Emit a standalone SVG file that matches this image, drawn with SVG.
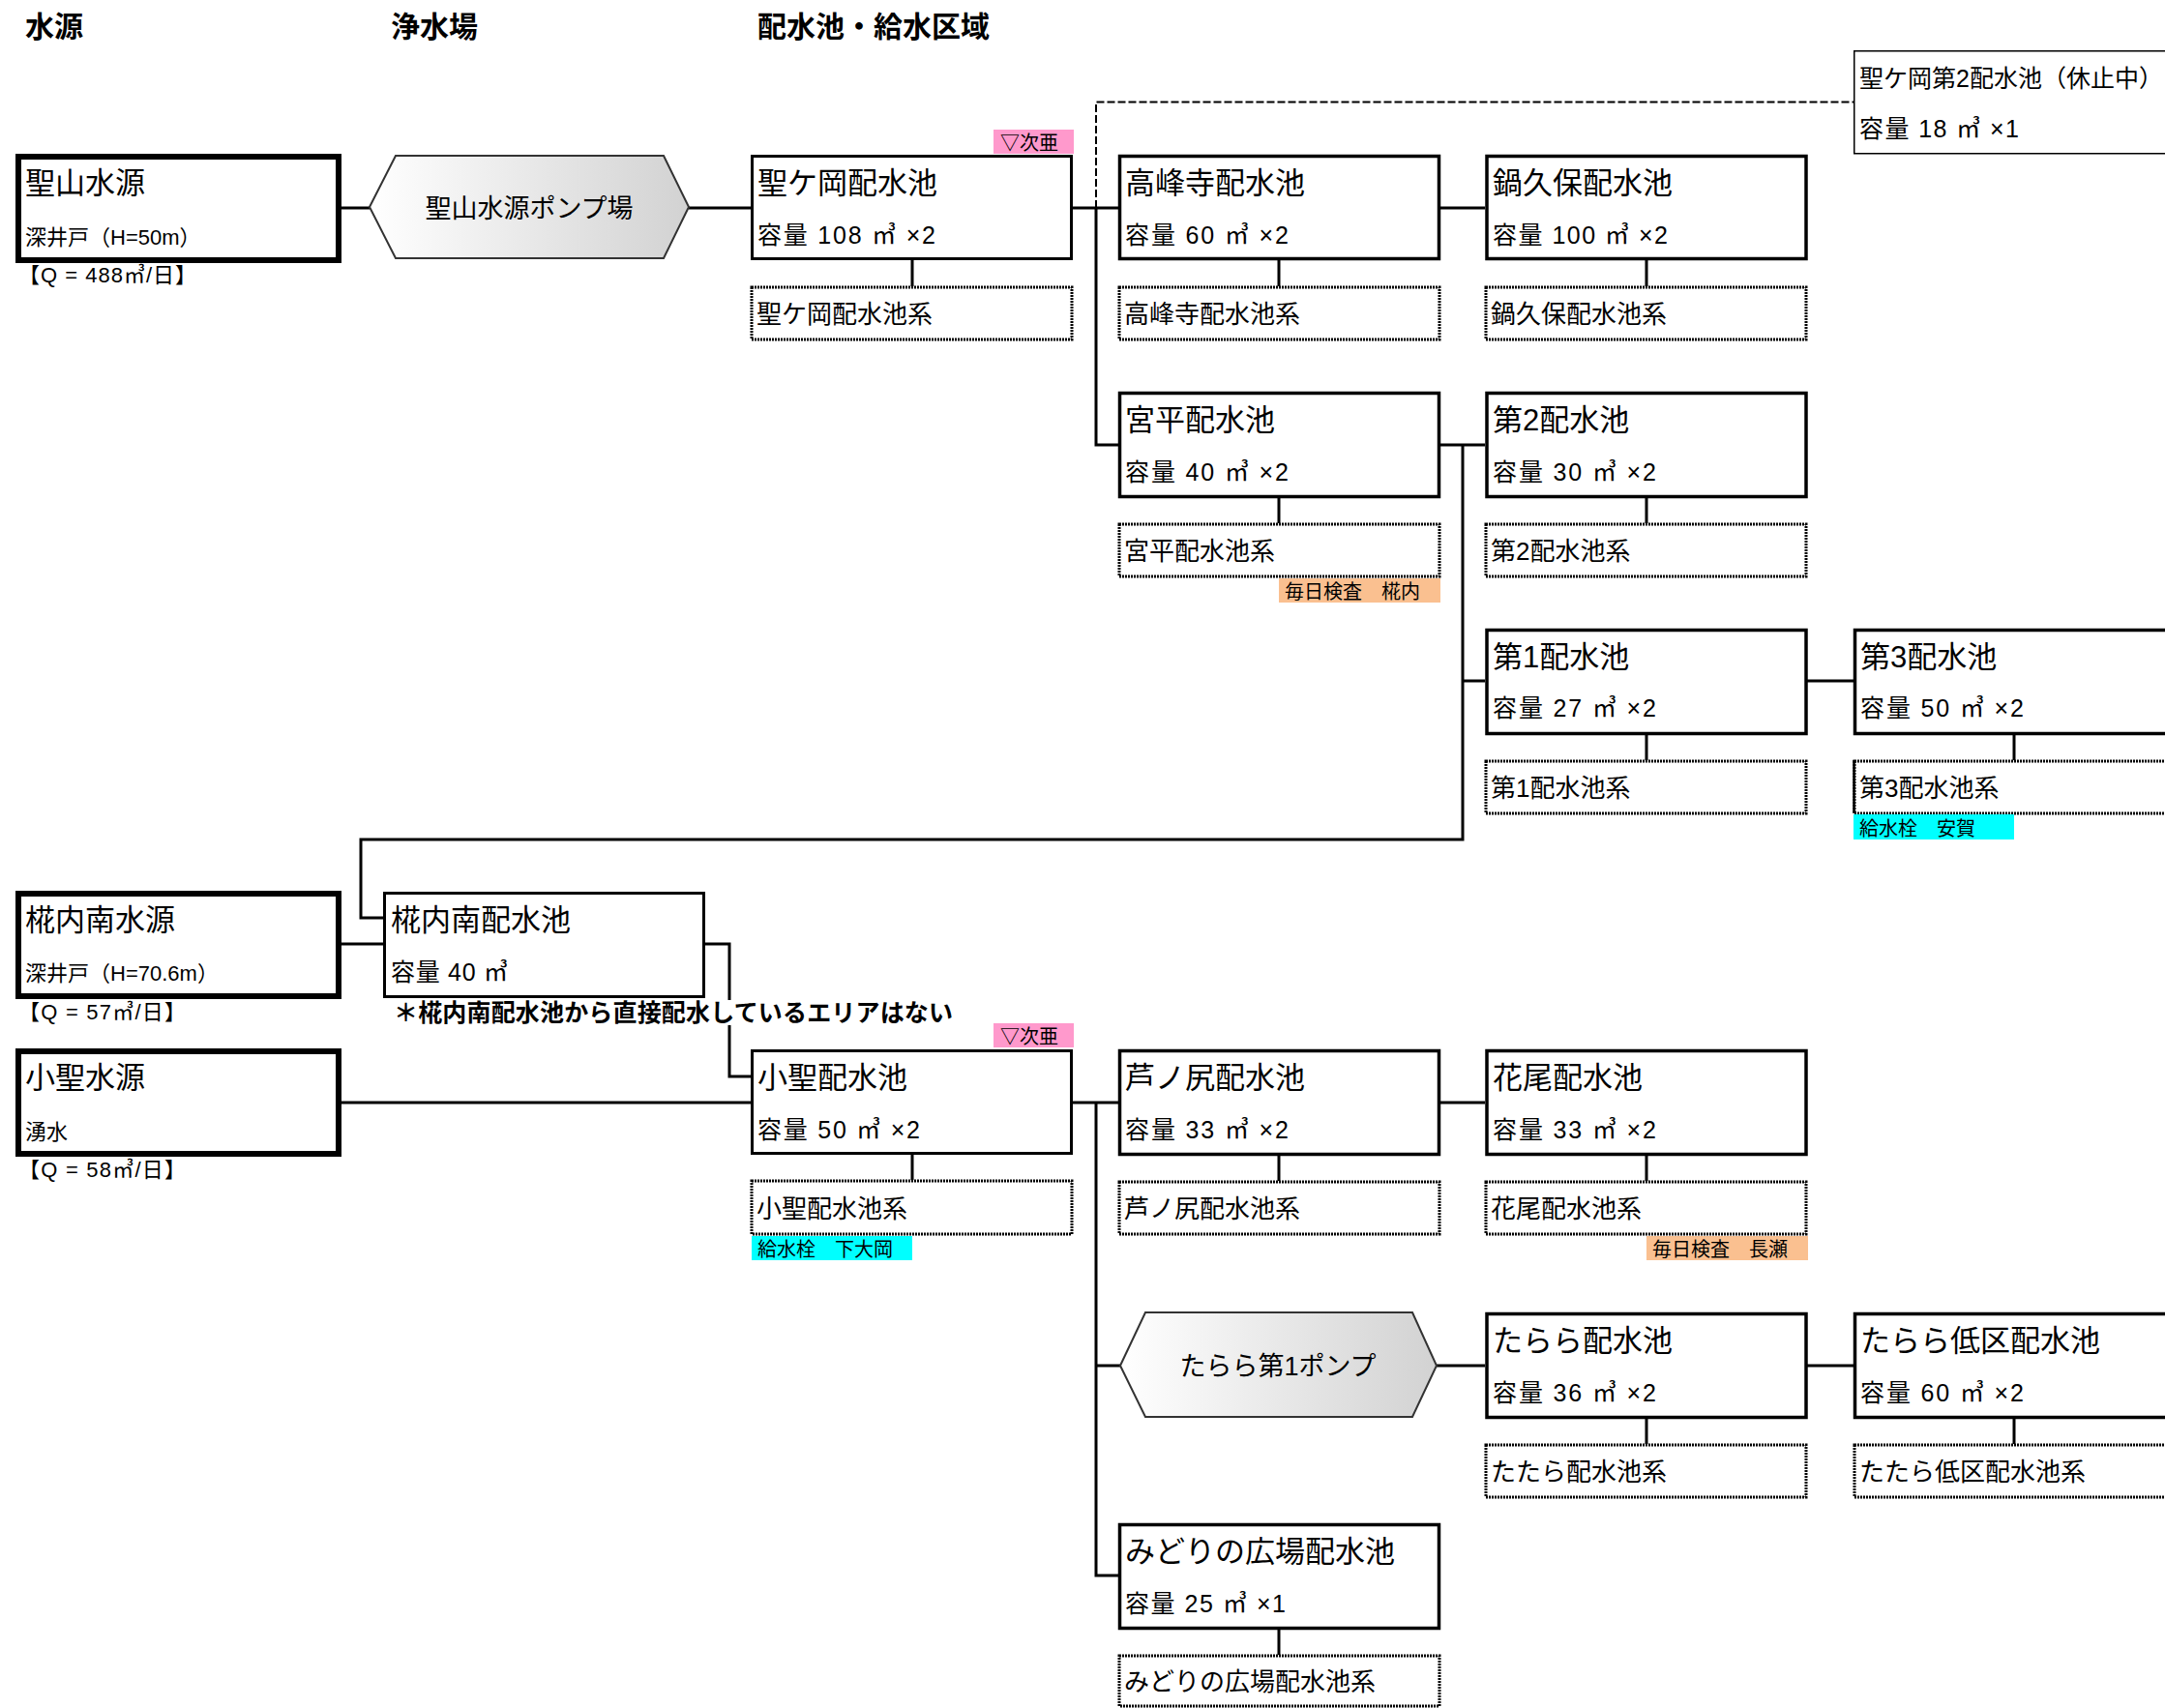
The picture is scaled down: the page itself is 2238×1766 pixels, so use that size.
<svg xmlns="http://www.w3.org/2000/svg" width="2238" height="1766" viewBox="0 0 2238 1766">
<defs>
<linearGradient id="pumpGrad" x1="0" y1="0" x2="1" y2="0">
<stop offset="0" stop-color="#ffffff"/>
<stop offset="1" stop-color="#d2d2d2"/>
</linearGradient>
<style>
text{font-family:"Liberation Sans","Noto Sans CJK JP",sans-serif;fill:#000}
.head{font-size:30px;font-weight:bold}
.title{font-size:31px}
.cap{font-size:25px}
.subt{font-size:26px}
.srcsub{font-size:22px}
.lbl{font-size:20px}
.pumpt{font-size:27px}
.note{font-size:25px;font-weight:bold}
.box{fill:#fff;stroke:#000;stroke-width:3.5}
.box2{fill:#fff;stroke:#000;stroke-width:3}
.src{fill:#fff;stroke:#000;stroke-width:6}
.thin{fill:#fff;stroke:#000;stroke-width:1.5}
.sub{fill:#fff;stroke:#000;stroke-width:3;stroke-dasharray:2 1}
.pump{fill:url(#pumpGrad);stroke:#333;stroke-width:2}
.conn{fill:none;stroke:#000;stroke-width:3}
.dash{fill:none;stroke:#000;stroke-width:2;stroke-dasharray:8 3}
.pink{fill:#ff99cc}
.orange{fill:#fac090}
.cyan{fill:#00ffff}
</style>
</defs>

<g id="headings">
<text class="head" x="26" y="38">水源</text>
<text class="head" x="404" y="38">浄水場</text>
<text class="head" x="783" y="38">配水池・給水区域</text>
</g>

<g id="connectors">
<path class="conn" d="M353 215 H382"/>
<path class="conn" d="M712 215 H776"/>
<path class="conn" d="M1109 215 H1156"/>
<path class="conn" d="M1133 215 V460 H1156"/>
<path class="conn" d="M1489 215 H1535"/>
<path class="dash" d="M1133 215 V105.5 H1916"/>
<path class="conn" d="M1489 460 H1535"/>
<path class="conn" d="M1512 460 V868 H373 V949 H396"/>
<path class="conn" d="M1512 704 H1535"/>
<path class="conn" d="M1868 704 H1916"/>
<path class="conn" d="M352 976 H396"/>
<path class="conn" d="M729 976 H754 V1113 H776"/>
<path class="conn" d="M352 1140 H776"/>
<path class="conn" d="M1109 1140 H1156"/>
<path class="conn" d="M1133 1140 V1629 H1156"/>
<path class="conn" d="M1489 1140 H1535"/>
<path class="conn" d="M1133 1412 H1158"/>
<path class="conn" d="M1485 1412 H1535"/>
<path class="conn" d="M1868 1412 H1916"/>
<path class="conn" d="M943 269 V296 M943 1194 V1220"/>
<path class="conn" d="M1322 269 V296 M1322 515 V541 M1322 1195 V1221 M1322 1684 V1711"/>
<path class="conn" d="M1702 269 V296 M1702 515 V541 M1702 760 V786 M1702 1195 V1221 M1702 1467 V1493"/>
<path class="conn" d="M2082 760 V786 M2082 1467 V1493"/>
</g>

<g id="src-hijiriyama">
<rect class="src" x="19" y="162" width="331" height="107"/>
<text class="title" x="26" y="200">聖山水源</text>
<text class="srcsub" x="26" y="253">深井戸（H=50m）</text>
<text class="srcsub" x="19" y="292" textLength="184">【Q = 488㎥/日】</text>
</g>

<g id="pump-hijiriyama">
<polygon class="pump" points="382,214 409,161 686,161 712,214 686,267 409,267"/>
<text class="pumpt" x="547" y="225" text-anchor="middle">聖山水源ポンプ場</text>
</g>

<g id="res-hijirigaoka">
<rect class="box2" x="777.5" y="161.5" width="330" height="106"/>
<text class="title" x="783" y="200">聖ケ岡配水池</text>
<text class="cap" x="783" y="252" textLength="184">容量 108 ㎥ ×2</text>
<rect class="pink" x="1027" y="134" width="83" height="25"/>
<text class="lbl" x="1034" y="155">▽次亜</text>
</g>
<g id="area-hijirigaoka">
<rect class="sub" x="777" y="297" width="331" height="54"/>
<text class="subt" x="782" y="334">聖ケ岡配水池系</text>
</g>

<g id="res-hijirigaoka2">
<rect class="thin" x="1916.75" y="52.75" width="340" height="106"/>
<text class="title" x="1922" y="90" style="font-size:25px">聖ケ岡第2配水池（休止中）</text>
<text class="cap" x="1922" y="142" textLength="165">容量 18 ㎥ ×1</text>
</g>

<g id="res-kouhouji">
<rect class="box" x="1157.5" y="161.5" width="330" height="106"/>
<text class="title" x="1163" y="200">高峰寺配水池</text>
<text class="cap" x="1163" y="252" textLength="169">容量 60 ㎥ ×2</text>
</g>
<g id="area-kouhouji">
<rect class="sub" x="1157" y="297" width="331" height="54"/>
<text class="subt" x="1162" y="334">高峰寺配水池系</text>
</g>

<g id="res-nabekubo">
<rect class="box" x="1537" y="161.5" width="330" height="106"/>
<text class="title" x="1543" y="200">鍋久保配水池</text>
<text class="cap" x="1543" y="252" textLength="181">容量 100 ㎥ ×2</text>
</g>
<g id="area-nabekubo">
<rect class="sub" x="1536" y="297" width="331" height="54"/>
<text class="subt" x="1541" y="334">鍋久保配水池系</text>
</g>

<g id="res-miyadaira">
<rect class="box" x="1157.5" y="406.5" width="330" height="107"/>
<text class="title" x="1163" y="445">宮平配水池</text>
<text class="cap" x="1163" y="497" textLength="169">容量 40 ㎥ ×2</text>
</g>
<g id="area-miyadaira">
<rect class="sub" x="1157" y="542" width="331" height="54"/>
<text class="subt" x="1162" y="579">宮平配水池系</text>
<rect class="orange" x="1322" y="598" width="167" height="25"/>
<text class="lbl" x="1328" y="619">毎日検査　椛内</text>
</g>

<g id="res-dai2">
<rect class="box" x="1537" y="406.5" width="330" height="107"/>
<text class="title" x="1543" y="445">第2配水池</text>
<text class="cap" x="1543" y="497" textLength="169">容量 30 ㎥ ×2</text>
</g>
<g id="area-dai2">
<rect class="sub" x="1536" y="542" width="331" height="54"/>
<text class="subt" x="1541" y="579">第2配水池系</text>
</g>

<g id="res-dai1">
<rect class="box" x="1537" y="651.5" width="330" height="107"/>
<text class="title" x="1543" y="690">第1配水池</text>
<text class="cap" x="1543" y="741" textLength="169">容量 27 ㎥ ×2</text>
</g>
<g id="area-dai1">
<rect class="sub" x="1536" y="787" width="331" height="54"/>
<text class="subt" x="1541" y="824">第1配水池系</text>
</g>

<g id="res-dai3">
<rect class="box" x="1917.5" y="651.5" width="340" height="107"/>
<text class="title" x="1923" y="690">第3配水池</text>
<text class="cap" x="1923" y="741" textLength="169">容量 50 ㎥ ×2</text>
</g>
<g id="area-dai3">
<rect class="sub" x="1917" y="787" width="340" height="54"/>
<path class="conn" d="M1916.5 786 V841" style="stroke-width:2.5"/>
<text class="subt" x="1922" y="824">第3配水池系</text>
<rect class="cyan" x="1916" y="842" width="166" height="26"/>
<text class="lbl" x="1922" y="864">給水栓　安賀</text>
</g>

<g id="src-shiiuchiminami">
<rect class="src" x="19" y="924" width="331" height="106"/>
<text class="title" x="26" y="962">椛内南水源</text>
<text class="srcsub" x="26" y="1014">深井戸（H=70.6m）</text>
<text class="srcsub" x="19" y="1054" textLength="173">【Q = 57㎥/日】</text>
</g>

<g id="res-shiiuchiminami">
<rect class="box2" x="397.5" y="923.5" width="330" height="107"/>
<text class="title" x="404" y="962">椛内南配水池</text>
<text class="cap" x="404" y="1014" textLength="121">容量 40 ㎥</text>
</g>
<g id="note">
<rect x="405" y="1034" width="585" height="26" fill="#fff"/>
<text class="note" x="407" y="1056" textLength="578">＊椛内南配水池から直接配水しているエリアはない</text>
</g>

<g id="src-kohijiri">
<rect class="src" x="19" y="1087" width="331" height="106"/>
<text class="title" x="26" y="1125">小聖水源</text>
<text class="srcsub" x="26" y="1178">湧水</text>
<text class="srcsub" x="19" y="1217" textLength="173">【Q = 58㎥/日】</text>
</g>

<g id="res-kohijiri">
<rect class="box2" x="777.5" y="1086.5" width="330" height="106"/>
<rect class="pink" x="1027" y="1058" width="83" height="25"/>
<text class="lbl" x="1034" y="1079">▽次亜</text>
<text class="title" x="783" y="1125">小聖配水池</text>
<text class="cap" x="783" y="1177" textLength="168">容量 50 ㎥ ×2</text>
</g>
<g id="area-kohijiri">
<rect class="sub" x="777" y="1221" width="331" height="55"/>
<text class="subt" x="782" y="1259">小聖配水池系</text>
<rect class="cyan" x="777" y="1278" width="166" height="25"/>
<text class="lbl" x="783" y="1299">給水栓　下大岡</text>
</g>

<g id="res-ashinoshiri">
<rect class="box" x="1157.5" y="1086.5" width="330" height="107"/>
<text class="title" x="1163" y="1125">芦ノ尻配水池</text>
<text class="cap" x="1163" y="1177" textLength="169">容量 33 ㎥ ×2</text>
</g>
<g id="area-ashinoshiri">
<rect class="sub" x="1157" y="1222" width="331" height="54"/>
<text class="subt" x="1162" y="1259">芦ノ尻配水池系</text>
</g>

<g id="res-hanao">
<rect class="box" x="1537" y="1086.5" width="330" height="107"/>
<text class="title" x="1543" y="1125">花尾配水池</text>
<text class="cap" x="1543" y="1177" textLength="169">容量 33 ㎥ ×2</text>
</g>
<g id="area-hanao">
<rect class="sub" x="1536" y="1222" width="331" height="54"/>
<text class="subt" x="1541" y="1259">花尾配水池系</text>
<rect class="orange" x="1702" y="1278" width="167" height="25"/>
<text class="lbl" x="1708" y="1299">毎日検査　長瀬</text>
</g>

<g id="pump-tarara">
<polygon class="pump" points="1158,1412 1184,1357 1460,1357 1485,1412 1460,1465 1184,1465"/>
<text class="pumpt" x="1321" y="1422" text-anchor="middle">たらら第1ポンプ</text>
</g>

<g id="res-tarara">
<rect class="box" x="1537" y="1358.5" width="330" height="107"/>
<text class="title" x="1543" y="1397">たらら配水池</text>
<text class="cap" x="1543" y="1449" textLength="169">容量 36 ㎥ ×2</text>
</g>
<g id="area-tarara">
<rect class="sub" x="1536" y="1494" width="331" height="54"/>
<text class="subt" x="1541" y="1531">たたら配水池系</text>
</g>

<g id="res-tarara-low">
<rect class="box" x="1917.5" y="1358.5" width="340" height="107"/>
<text class="title" x="1923" y="1397">たらら低区配水池</text>
<text class="cap" x="1923" y="1449" textLength="169">容量 60 ㎥ ×2</text>
</g>
<g id="area-tarara-low">
<rect class="sub" x="1917" y="1494" width="340" height="54"/>
<text class="subt" x="1922" y="1531">たたら低区配水池系</text>
</g>

<g id="res-midori">
<rect class="box" x="1157.5" y="1576.5" width="330" height="107"/>
<text class="title" x="1163" y="1615">みどりの広場配水池</text>
<text class="cap" x="1163" y="1667" textLength="166">容量 25 ㎥ ×1</text>
</g>
<g id="area-midori">
<rect class="sub" x="1157" y="1712" width="331" height="52"/>
<text class="subt" x="1162" y="1748">みどりの広場配水池系</text>
</g>
</svg>
